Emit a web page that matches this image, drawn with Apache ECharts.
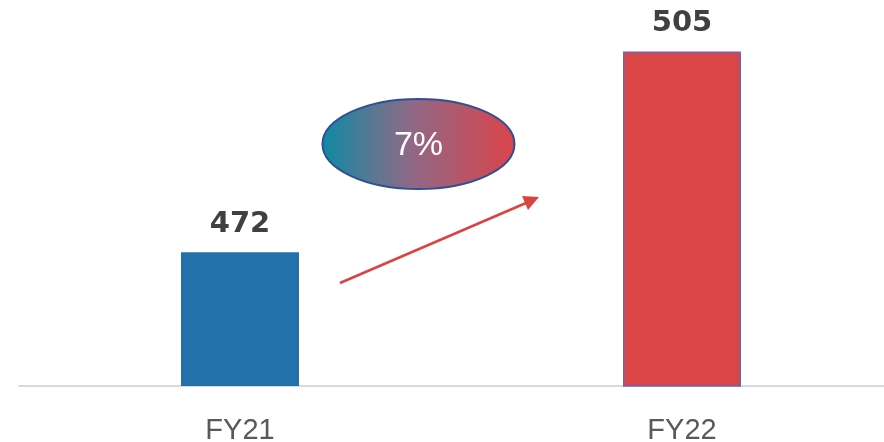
<!DOCTYPE html>
<html>
<head>
<meta charset="utf-8">
<script src="https://cdn.jsdelivr.net/npm/echarts@6/dist/echarts.min.js"></script>
<style>
  html, body { margin: 0; padding: 0; background: #fff; }
  #chart { width: 884px; height: 442px; }
</style>
</head>
<body>
<div id="chart"></div>
<script>
const categories = ["FY21", "FY22"];
const values = [472, 505];
const growthLabel = "7%";

const barColors = ["#2271AA", "#DA4647"];
const barBorders = ["#2271AA", "#6B64B8"];

const chart = echarts.init(document.getElementById("chart"));

const option = {
  animation: false,
  grid: {
    left: 19, width: 884, top: 21, bottom: 56,
    containLabel: false,
    outerBoundsMode: "none"
  },
  xAxis: {
    type: "category",
    data: categories,
    axisLine: { lineStyle: { color: "#d9d9d9", width: 2 } },
    axisTick: { show: false },
    axisLabel: {
      color: "#595959",
      fontFamily: "Liberation Sans",
      fontSize: 29,
      margin: 30
    }
  },
  yAxis: {
    type: "value",
    min: 450,
    max: 510,
    show: false,
    splitLine: { show: false }
  },
  series: [
    {
      type: "bar",
      barWidth: 118,
      data: values.map((v, i) => ({
        value: v,
        itemStyle: {
          color: barColors[i],
          borderColor: barBorders[i],
          borderWidth: i === 1 ? 1.5 : 0
        }
      })),
      label: {
        show: true,
        position: "top",
        distance: 13,
        color: "#404040",
        fontFamily: "DejaVu Sans",
        fontWeight: "bold",
        fontSize: 29
      }
    }
  ],
  graphic: [
    {
      type: "ellipse",
      shape: { cx: 418.5, cy: 144, rx: 96, ry: 45 },
      style: {
        fill: new echarts.graphic.LinearGradient(0, 0, 1, 0, [
          { offset: 0, color: "#0E8AA3" },
          { offset: 0.45, color: "#8D6A88" },
          { offset: 1, color: "#DC4349" }
        ]),
        stroke: "#2F4F95",
        lineWidth: 2
      },
      z: 10
    },
    {
      type: "text",
      x: 418.5,
      y: 146,
      style: {
        text: growthLabel,
        fill: "#ffffff",
        font: "34px 'Liberation Sans'",
        textAlign: "center",
        textVerticalAlign: "middle"
      },
      z: 11
    },
    {
      type: "line",
      shape: { x1: 340, y1: 283, x2: 526, y2: 203 },
      style: { stroke: "#DB4343", lineWidth: 2.5 },
      z: 10
    },
    {
      type: "polygon",
      shape: { points: [[539, 197], [522, 196], [528, 210]] },
      style: { fill: "#DB4343" },
      z: 10
    }
  ]
};

chart.setOption(option);
</script>
</body>
</html>
